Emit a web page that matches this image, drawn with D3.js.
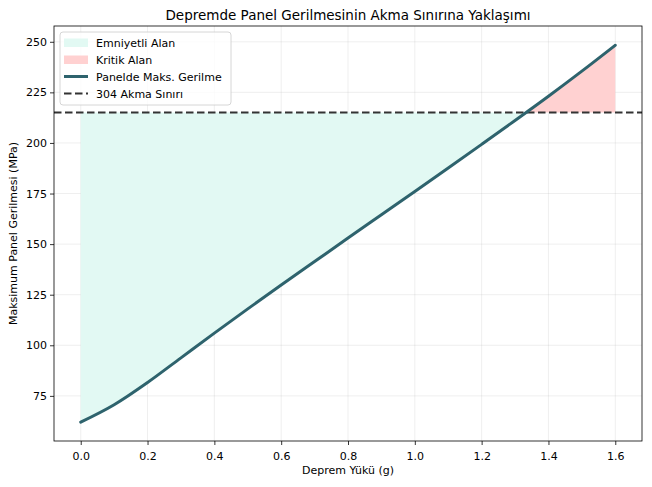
<!DOCTYPE html>
<html>
<head>
<meta charset="utf-8">
<script src="https://cdn.jsdelivr.net/npm/d3@7"></script>
<style>
  body { margin: 0; background: #fff; }
  svg text { font-family: "DejaVu Sans", sans-serif; fill: #000; }
</style>
</head>
<body>
<div id="chart"></div>
<script>
// values
var loads = [0, 0.1, 0.2, 0.3, 0.4, 0.5, 0.6, 0.7, 0.8, 0.9, 1.0, 1.1, 1.2, 1.3, 1.4, 1.5, 1.6];
var stress = [62, 70.6, 81.6, 93.8, 106, 118, 129.8, 141.4, 153, 164.5, 176, 187.6, 199.3, 211.1, 223.1, 235.5, 248.3];
var yieldLimit = 215;
var xTicks = [0, 0.2, 0.4, 0.6, 0.8, 1.0, 1.2, 1.4, 1.6];
var yTicks = [75, 100, 125, 150, 175, 200, 225, 250];
var legendLabels = ["Emniyetli Alan", "Kritik Alan", "Panelde Maks. Gerilme", "304 Akma Sınırı"];

var w = 652, h = 487;
var margin = {top: 26, right: 10, bottom: 46, left: 54};
var lineColor = "#2e636d";
var safeColor = "#e2f9f3";
var critColor = "#ffd1d1";

var svg = d3.select("#chart").append("svg")
  .attr("width", w)
  .attr("height", h);

var xScale = d3.scaleLinear().domain([-0.08, 1.68]).range([margin.left, w - margin.right]);
var yScale = d3.scaleLinear().domain([52.7, 257.8]).range([h - margin.bottom, margin.top]);

var data = loads.map((d, i) => ({x: d, y: stress[i]}));

// grid
svg.append("g")
  .selectAll("line.vg")
  .data(xTicks)
  .enter().append("line")
  .attr("x1", d => xScale(d)).attr("x2", d => xScale(d))
  .attr("y1", margin.top).attr("y2", h - margin.bottom)
  .attr("stroke", "#b0b0b0").attr("stroke-opacity", 0.25).attr("stroke-width", 0.8);
svg.append("g")
  .selectAll("line.hg")
  .data(yTicks)
  .enter().append("line")
  .attr("x1", margin.left).attr("x2", w - margin.right)
  .attr("y1", d => yScale(d)).attr("y2", d => yScale(d))
  .attr("stroke", "#b0b0b0").attr("stroke-opacity", 0.25).attr("stroke-width", 0.8);

// split points at the crossing with the yield line
var safePts = [], critPts = [];
for (var i = 0; i < data.length; i++) {
  var d = data[i];
  if (d.y <= yieldLimit) safePts.push(d);
  if (d.y >= yieldLimit) critPts.push(d);
  if (i < data.length - 1) {
    var n = data[i + 1];
    if ((d.y - yieldLimit) * (n.y - yieldLimit) < 0) {
      var cx = d.x + (yieldLimit - d.y) * (n.x - d.x) / (n.y - d.y);
      safePts.push({x: cx, y: yieldLimit});
      critPts.push({x: cx, y: yieldLimit});
    }
  }
}

var area = d3.area()
  .x(d => xScale(d.x))
  .y0(yScale(yieldLimit))
  .y1(d => yScale(d.y));

svg.append("path").datum(safePts)
  .attr("d", area)
  .attr("fill", safeColor);
svg.append("path").datum(critPts)
  .attr("d", area)
  .attr("fill", critColor);

// yield line
svg.append("line")
  .attr("x1", margin.left).attr("x2", w - margin.right)
  .attr("y1", yScale(yieldLimit)).attr("y2", yScale(yieldLimit))
  .attr("stroke", "#333").attr("stroke-width", 2)
  .attr("stroke-dasharray", "7.5,3.5");

// stress curve
var line = d3.line()
  .x(d => xScale(d.x))
  .y(d => yScale(d.y))
  .curve(d3.curveMonotoneX);
svg.append("path").datum(data)
  .attr("d", line)
  .attr("fill", "none")
  .attr("stroke", lineColor)
  .attr("stroke-width", 3)
  .attr("stroke-linecap", "round");

// axes
var xAxis = d3.axisBottom(xScale).tickValues(xTicks).tickFormat(d3.format(".1f")).tickSizeOuter(0).tickSize(4);
var yAxis = d3.axisLeft(yScale).tickValues(yTicks).tickFormat(d3.format("d")).tickSizeOuter(0).tickSize(4);
var gx = svg.append("g")
  .attr("transform", "translate(0," + (h - margin.bottom) + ")")
  .call(xAxis);
var gy = svg.append("g")
  .attr("transform", "translate(" + margin.left + ",0)")
  .call(yAxis);
[gx, gy].forEach(g => {
  g.selectAll("text").attr("font-size", "11px").attr("font-family", "DejaVu Sans, sans-serif").style("fill", "#000");
  g.selectAll("line").attr("stroke", "#000").attr("stroke-width", 0.8);
  g.select(".domain").remove();
});
gx.selectAll("text").attr("dy", "1.05em");

// frame
svg.append("rect")
  .attr("x", margin.left).attr("y", margin.top)
  .attr("width", w - margin.left - margin.right)
  .attr("height", h - margin.top - margin.bottom)
  .attr("fill", "none").attr("stroke", "#000").attr("stroke-width", 0.8);

// labels
svg.append("text")
  .attr("x", (margin.left + w - margin.right) / 2).attr("y", 20)
  .attr("text-anchor", "middle").attr("font-size", "13.5px")
  .text("Depremde Panel Gerilmesinin Akma Sınırına Yaklaşımı");
svg.append("text")
  .attr("x", (margin.left + w - margin.right) / 2).attr("y", h - 13)
  .attr("text-anchor", "middle").attr("font-size", "11px")
  .text("Deprem Yükü (g)");
svg.append("text")
  .attr("transform", "rotate(-90)")
  .attr("x", -(margin.top + h - margin.bottom) / 2).attr("y", 17)
  .attr("text-anchor", "middle").attr("font-size", "11px")
  .text("Maksimum Panel Gerilmesi (MPa)");

// legend
var lg = svg.append("g").attr("transform", "translate(60,32)");
lg.append("rect")
  .attr("width", 171).attr("height", 73).attr("rx", 3)
  .attr("fill", "#fff").attr("fill-opacity", 0.8)
  .attr("stroke", "#ccc").attr("stroke-width", 0.8);
legendLabels.forEach((lab, i) => {
  var cy = 10.5 + i * 17;
  if (i === 0 || i === 1) {
    lg.append("rect")
      .attr("x", 4).attr("y", cy - 4).attr("width", 24).attr("height", 8.5)
      .attr("fill", i === 0 ? safeColor : critColor);
  } else {
    lg.append("line")
      .attr("x1", 4).attr("x2", 28).attr("y1", cy).attr("y2", cy)
      .attr("stroke", i === 2 ? lineColor : "#333")
      .attr("stroke-width", i === 2 ? 3 : 2)
      .attr("stroke-dasharray", i === 3 ? "7.5,3.5" : null);
  }
  lg.append("text")
    .attr("x", 36).attr("y", cy + 4)
    .attr("font-size", "11px")
    .text(lab);
});
</script>
</body>
</html>
